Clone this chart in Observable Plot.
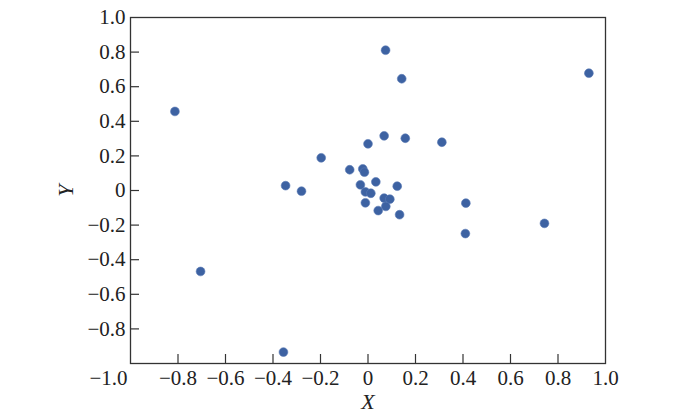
<!DOCTYPE html>
<html>
<head>
<meta charset="utf-8">
<script src="https://cdn.jsdelivr.net/npm/d3@7"></script>
<script src="https://cdn.jsdelivr.net/npm/@observablehq/plot@0.6"></script>
<style>
  html, body { margin: 0; padding: 0; background: #fff; }
  #chart { width: 700px; height: 413px; }
  #chart svg text { font-family: "Liberation Serif", "Times New Roman", Times, serif; }
</style>
</head>
<body>
<div id="chart"></div>
<script>
// Data
const xValues = [-0.813, -0.705, -0.356, -0.347, -0.280, -0.197, -0.077, -0.022, -0.015, 0.000,
                 0.068, 0.142, 0.074, 0.157, 0.311, -0.032, 0.033, 0.123, -0.011, 0.012,
                 -0.011, 0.068, 0.092, 0.075, 0.043, 0.133, 0.412, 0.410, 0.743, 0.930];
const yValues = [0.457, -0.468, -0.934, 0.028, -0.004, 0.189, 0.120, 0.125, 0.106, 0.270,
                 0.316, 0.646, 0.811, 0.302, 0.279, 0.033, 0.050, 0.025, -0.008, -0.016,
                 -0.071, -0.044, -0.050, -0.092, -0.116, -0.140, -0.073, -0.249, -0.190, 0.678];
const innerTicks = [-0.8, -0.6, -0.4, -0.2, 0, 0.2, 0.4, 0.6, 0.8];
const xLabelTicks = [-0.8, -0.6, -0.4, -0.2, 0, 0.2, 0.4, 0.6, 0.8, 1.0];
const yLabelTicks = [-0.8, -0.6, -0.4, -0.2, 0, 0.2, 0.4, 0.6, 0.8, 1.0];
const cornerTick = [-1.0];
const xTitle = ["X"];
const yTitle = ["Y"];

const points = xValues.map((x, i) => ({x, y: yValues[i]}));
const fmt = d => d === 0 ? "0" : d.toFixed(1).replace("-", "\u2212");

const plot = Plot.plot({
  width: 700,
  height: 413,
  marginLeft: 130,
  marginRight: 95,
  marginTop: 17,
  marginBottom: 50,
  style: {fontFamily: "'Liberation Serif', 'Times New Roman', serif", fontSize: "21px", color: "#222", background: "#fff"},
  x: {domain: [-1, 1], axis: null},
  y: {domain: [-1, 1], axis: null},
  marks: [
    Plot.frame({stroke: "#333", strokeWidth: 1.3}),
    // inward tick marks
    Plot.axisX(innerTicks, {anchor: "bottom", tickSize: -9, tickFormat: () => "", label: null, stroke: "#333", strokeWidth: 1.2}),
    Plot.axisY(innerTicks, {anchor: "left", tickSize: -9, tickFormat: () => "", label: null, stroke: "#333", strokeWidth: 1.2}),
    // tick labels
    Plot.axisX(xLabelTicks, {anchor: "bottom", tickSize: 0, tickPadding: 7, tickFormat: fmt, label: null, fill: "#222"}),
    Plot.axisX(cornerTick, {anchor: "bottom", tickSize: 0, tickPadding: 7, tickFormat: fmt, label: null, textAnchor: "end", dx: -3, fill: "#222"}),
    Plot.axisY(yLabelTicks, {anchor: "left", tickSize: 0, tickPadding: 5, tickFormat: fmt, label: null, fill: "#222"}),
    // axis titles
    Plot.text(xTitle, {frameAnchor: "bottom", text: d => d, dy: 38, lineAnchor: "middle", fontStyle: "italic", fontSize: 22, fill: "#222"}),
    Plot.text(yTitle, {frameAnchor: "left", text: d => d, dx: -65, rotate: -90, textAnchor: "middle", lineAnchor: "middle", fontStyle: "italic", fontSize: 22, fill: "#222"}),
    // points
    Plot.dot(points, {x: "x", y: "y", r: 4.4, fill: "#3d62a2", stroke: "#5a7bb5", strokeWidth: 0.6})
  ]
});
document.getElementById("chart").appendChild(plot);
</script>
</body>
</html>
